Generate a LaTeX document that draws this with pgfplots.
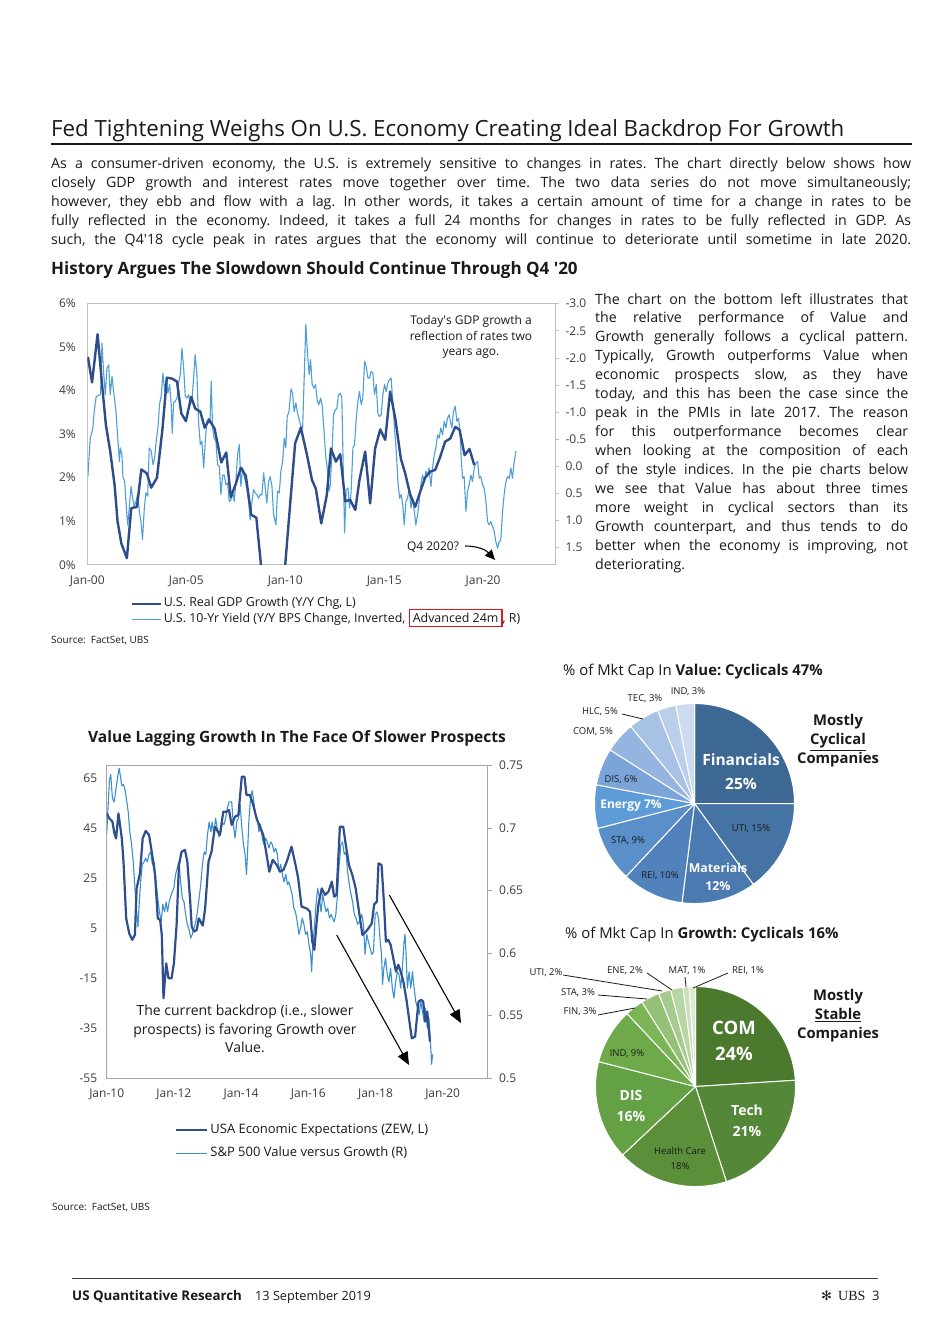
\documentclass[border=0pt]{standalone}
\usepackage{fontspec}
\setmainfont{Open Sans}
\newfontfamily\dejavu{DejaVu Sans}
\newfontfamily\ubsserif{Liberation Serif}
\usepackage{xcolor}
\usepackage{pgfplots}
\pgfplotsset{compat=1.18}
\usepackage{pgfplotstable}
\usetikzlibrary{arrows.meta}
\frenchspacing

\definecolor{gdpblue}{HTML}{2E4C8A}
\definecolor{yldblue}{HTML}{4E9FD8}
\definecolor{zewblue}{HTML}{2F4E8C}
\definecolor{vgblue}{HTML}{3A8FCF}
\definecolor{boxgray}{HTML}{BFBFBF}
\definecolor{boxgrayb}{HTML}{A6A6A6}
\definecolor{txt}{HTML}{1A1A1A}
\definecolor{boxred}{HTML}{E8141B}
% value pie
\definecolor{vFin}{HTML}{3D6894}
\definecolor{vUti}{HTML}{4573A3}
\definecolor{vMat}{HTML}{4A7AB0}
\definecolor{vRei}{HTML}{5282BC}
\definecolor{vSta}{HTML}{5A8FCA}
\definecolor{vEne}{HTML}{5E9CD7}
\definecolor{vDis}{HTML}{7BA5D9}
\definecolor{vCom}{HTML}{95B5E0}
\definecolor{vHlc}{HTML}{A7C2E5}
\definecolor{vTec}{HTML}{BACFEA}
\definecolor{vInd}{HTML}{CCDBEF}
% growth pie
\definecolor{gCom}{HTML}{4B7A2E}
\definecolor{gTec}{HTML}{558738}
\definecolor{gHc}{HTML}{5B8F3A}
\definecolor{gDis}{HTML}{64A044}
\definecolor{gInd}{HTML}{6EAA4A}
\definecolor{gFin}{HTML}{7DB457}
\definecolor{gSta}{HTML}{94C077}
\definecolor{gUti}{HTML}{A7CB8F}
\definecolor{gEne}{HTML}{B8D5A4}
\definecolor{gMat}{HTML}{CADFBA}
\definecolor{gRei}{HTML}{DDEAD2}

% US real GDP growth, y/y %
\pgfplotstableread{
year gdp
2000.03 4.78
2000.24 4.19
2000.52 5.30
2000.74 4.17
2000.94 3.21
2001.16 2.60
2001.38 1.83
2001.53 0.99
2001.72 0.49
2002.00 0.15
2002.22 1.30
2002.51 1.33
2002.73 2.19
2003.01 2.10
2003.23 1.77
2003.52 2.00
2003.80 3.13
2004.02 4.30
2004.28 4.28
2004.53 4.21
2004.75 3.48
2004.98 3.30
2005.25 3.86
2005.45 3.59
2005.71 3.52
2005.93 3.15
2006.16 3.33
2006.43 3.13
2006.77 2.35
2007.02 2.58
2007.25 1.55
2007.51 1.87
2007.76 2.23
2008.01 2.04
2008.28 1.15
2008.54 1.08
2008.77 0.02
2009.02 -2.50
2009.27 -3.90
2009.52 -3.20
2009.77 -0.60
2010.00 0.00
2010.25 1.40
2010.50 2.79
2010.79 3.15
2011.10 2.52
2011.35 1.95
2011.55 1.74
2011.82 0.95
2012.10 1.60
2012.31 2.67
2012.56 2.37
2012.78 2.54
2013.03 1.46
2013.28 1.49
2013.54 1.26
2013.75 1.95
2014.04 2.60
2014.29 1.41
2014.54 2.67
2014.80 3.11
2015.05 2.87
2015.30 3.98
2015.56 3.36
2015.84 2.44
2016.06 2.10
2016.31 1.62
2016.57 1.33
2016.82 1.68
2017.07 2.00
2017.33 2.14
2017.58 2.18
2017.83 2.48
2018.08 2.83
2018.34 2.90
2018.59 3.17
2018.81 3.10
2019.06 2.52
2019.31 2.66
2019.55 2.29
}\gdp

% 10-yr yield y/y change (pp), advanced 24m, plotted inverted
\pgfplotstableread{
year chg
2000.03 0.19
2000.15 -0.52
2000.27 -0.68
2000.37 -1.08
2000.45 -1.29
2000.57 -1.31
2000.67 -1.32
2000.74 -2.27
2000.82 -1.75
2000.91 -1.32
2000.99 -1.81
2001.08 -1.87
2001.16 -1.32
2001.25 -1.66
2001.33 -1.38
2001.45 -1.01
2001.53 -0.58
2001.62 -0.09
2001.67 -0.34
2001.75 -0.21
2001.80 0.19
2001.89 0.28
2001.95 0.65
2002.04 1.08
2002.12 0.77
2002.21 0.37
2002.29 0.59
2002.37 0.74
2002.46 0.65
2002.54 0.52
2002.63 0.83
2002.71 1.02
2002.79 1.35
2002.88 0.77
2002.96 0.49
2003.05 0.55
2003.13 -0.34
2003.23 -0.28
2003.32 -0.03
2003.40 -0.15
2003.48 -0.46
2003.57 -0.71
2003.65 -1.14
2003.74 -1.32
2003.82 -1.72
2003.91 -1.38
2003.99 -1.63
2004.07 -1.35
2004.16 -1.51
2004.24 -1.14
2004.29 -0.61
2004.36 -1.17
2004.44 -1.20
2004.53 -1.26
2004.61 -1.54
2004.70 -1.69
2004.78 -2.18
2004.87 -1.81
2004.95 -1.29
2005.03 -1.26
2005.12 -1.32
2005.20 -1.14
2005.29 -1.23
2005.37 -1.63
2005.45 -2.06
2005.54 -1.69
2005.62 -0.83
2005.71 -0.40
2005.79 -0.46
2005.88 0.03
2005.96 -0.46
2006.04 -0.83
2006.13 -0.89
2006.20 -0.83
2006.26 -1.57
2006.33 -0.71
2006.41 -0.52
2006.50 -0.46
2006.58 -0.03
2006.67 0.00
2006.75 0.52
2006.84 0.16
2006.92 0.16
2007.00 0.34
2007.09 0.31
2007.17 0.65
2007.26 0.62
2007.34 0.46
2007.42 0.65
2007.51 0.28
2007.59 -0.21
2007.68 -0.40
2007.76 0.37
2007.85 0.03
2007.93 0.19
2008.06 0.40
2008.15 0.65
2008.23 0.99
2008.32 0.65
2008.40 0.43
2008.49 0.49
2008.57 0.52
2008.65 0.59
2008.74 0.52
2008.82 0.53
2008.91 0.12
2008.99 0.40
2009.07 0.68
2009.16 0.28
2009.24 0.19
2009.33 0.37
2009.41 0.89
2009.53 1.08
2009.61 0.46
2009.70 0.49
2009.78 0.09
2009.87 -0.09
2009.95 -0.52
2010.03 -0.34
2010.10 -0.92
2010.19 -1.01
2010.29 -1.43
2010.37 -1.35
2010.45 -1.01
2010.54 -1.17
2010.62 -0.98
2010.71 -0.86
2010.79 -0.74
2010.88 -0.70
2011.04 -2.62
2011.13 -2.06
2011.21 -1.69
2011.28 -1.97
2011.36 -1.51
2011.45 -1.44
2011.53 -1.51
2011.62 -1.20
2011.70 -1.14
2011.79 -1.26
2011.87 -1.11
2011.95 -0.71
2012.04 -0.21
2012.12 0.03
2012.21 0.46
2012.27 0.37
2012.36 -0.21
2012.44 -0.95
2012.53 -1.04
2012.61 -1.07
2012.69 -1.32
2012.78 -1.35
2012.86 -1.26
2012.93 0.03
2013.00 1.23
2013.08 0.43
2013.17 0.40
2013.25 0.77
2013.33 0.46
2013.42 -0.34
2013.50 -0.40
2013.59 -0.89
2013.67 -1.20
2013.75 -1.38
2013.84 -1.14
2013.92 -1.26
2014.01 -1.94
2014.09 -1.84
2014.18 -1.63
2014.26 -1.63
2014.34 -1.75
2014.43 -1.72
2014.51 -1.32
2014.60 -1.51
2014.68 -0.98
2014.76 -0.92
2014.85 -0.95
2014.93 -1.32
2015.02 -1.51
2015.10 -1.38
2015.19 -1.54
2015.27 -1.60
2015.35 -1.63
2015.44 -1.14
2015.52 -0.71
2015.61 -0.28
2015.69 0.28
2015.78 0.59
2015.86 0.52
2015.94 0.71
2016.01 1.08
2016.10 0.65
2016.18 0.59
2016.26 0.40
2016.35 0.77
2016.43 0.59
2016.52 0.83
2016.60 1.08
2016.69 0.89
2016.77 0.65
2016.85 0.34
2016.94 0.16
2017.02 0.28
2017.11 0.09
2017.19 0.16
2017.27 0.03
2017.36 0.37
2017.44 0.03
2017.53 -0.21
2017.61 -0.34
2017.70 -0.58
2017.78 -0.52
2017.86 -0.71
2017.95 -0.58
2018.03 -0.83
2018.12 -0.71
2018.20 -0.89
2018.28 -0.95
2018.34 -0.83
2018.42 -0.71
2018.50 -1.01
2018.59 -1.11
2018.67 -0.83
2018.76 -0.89
2018.84 -0.58
2018.89 -0.15
2018.96 0.22
2019.04 0.19
2019.13 0.83
2019.21 0.46
2019.29 0.34
2019.38 0.16
2019.46 0.28
2019.55 0.03
2019.63 -0.06
2019.72 -0.09
2019.80 0.22
2019.88 0.19
2019.97 0.34
2020.05 0.40
2020.14 0.65
2020.22 1.02
2020.30 1.08
2020.39 1.02
2020.47 1.11
2020.56 1.20
2020.64 1.39
2020.73 1.51
2020.81 1.39
2020.89 1.36
2020.98 0.83
2021.06 0.52
2021.15 0.28
2021.23 0.19
2021.32 0.22
2021.40 0.03
2021.48 0.22
2021.57 -0.09
2021.65 -0.28
}\yld

% ZEW US economic expectations
\pgfplotstableread{
year zew
2010.00 50.9
2010.08 48.9
2010.17 47.6
2010.23 42.9
2010.28 40.9
2010.35 50.9
2010.45 40.9
2010.50 31.6
2010.58 8.9
2010.67 2.9
2010.76 0.3
2010.84 2.3
2010.89 20.9
2010.99 26.9
2011.07 40.9
2011.16 43.9
2011.26 42.3
2011.34 35.6
2011.44 26.3
2011.52 8.9
2011.59 8.3
2011.64 2.3
2011.69 -23.1
2011.77 -9.1
2011.84 -15.1
2011.93 -15.1
2012.00 -9.1
2012.08 6.3
2012.15 30.3
2012.23 35.6
2012.33 36.3
2012.40 31.6
2012.48 16.9
2012.53 5.6
2012.60 3.6
2012.68 4.3
2012.74 8.9
2012.86 6.0
2012.93 12.9
2013.03 31.6
2013.12 35.6
2013.22 45.6
2013.37 42.3
2013.47 51.6
2013.57 51.6
2013.64 52.3
2013.72 46.3
2013.82 49.6
2013.92 50.3
2014.02 65.6
2014.10 65.6
2014.16 58.3
2014.26 58.3
2014.36 54.3
2014.46 48.9
2014.56 45.6
2014.66 42.3
2014.76 34.3
2014.84 27.6
2014.94 32.3
2015.06 30.3
2015.16 27.6
2015.26 28.3
2015.36 31.6
2015.50 37.6
2015.60 31.6
2015.70 24.9
2015.80 13.6
2015.95 12.9
2016.05 11.6
2016.12 -0.4
2016.18 -3.7
2016.25 7.6
2016.30 14.3
2016.40 20.9
2016.50 18.3
2016.60 19.6
2016.70 23.6
2016.77 17.6
2016.84 18.3
2016.94 45.6
2017.04 45.6
2017.11 38.9
2017.21 30.3
2017.31 26.3
2017.41 20.9
2017.51 11.6
2017.61 2.3
2017.71 3.5
2017.79 4.9
2017.89 6.9
2017.96 14.5
2018.04 15.6
2018.09 30.9
2018.18 30.3
2018.25 15.6
2018.31 -0.4
2018.38 0.3
2018.45 -1.7
2018.53 -7.1
2018.61 -12.4
2018.68 -9.7
2018.75 -12.4
2018.83 -16.4
2018.93 -24.4
2019.01 -32.4
2019.08 -39.1
2019.18 -38.4
2019.28 -24.4
2019.36 -23.7
2019.42 -24.4
2019.48 -32.4
2019.54 -28.4
2019.62 -40.4
}\zew

% S&P 500 Value / Growth ratio
\pgfplotstableread{
year ratio
2010.00 0.695
2010.08 0.738
2010.12 0.743
2010.17 0.724
2010.22 0.721
2010.27 0.730
2010.32 0.740
2010.37 0.748
2010.40 0.743
2010.45 0.734
2010.50 0.735
2010.55 0.730
2010.60 0.721
2010.64 0.713
2010.69 0.697
2010.74 0.687
2010.79 0.673
2010.84 0.652
2010.89 0.633
2010.93 0.621
2010.97 0.641
2011.01 0.657
2011.06 0.671
2011.11 0.673
2011.16 0.676
2011.21 0.673
2011.26 0.679
2011.31 0.681
2011.36 0.671
2011.41 0.673
2011.47 0.657
2011.52 0.644
2011.57 0.633
2011.62 0.625
2011.67 0.639
2011.72 0.633
2011.77 0.641
2011.81 0.633
2011.86 0.641
2011.90 0.645
2011.95 0.649
2012.00 0.652
2012.05 0.663
2012.10 0.668
2012.15 0.673
2012.20 0.657
2012.25 0.644
2012.30 0.641
2012.35 0.631
2012.40 0.623
2012.45 0.619
2012.50 0.612
2012.55 0.615
2012.60 0.620
2012.65 0.625
2012.70 0.633
2012.75 0.644
2012.80 0.655
2012.85 0.671
2012.90 0.681
2012.95 0.679
2013.00 0.695
2013.05 0.705
2013.10 0.697
2013.14 0.705
2013.19 0.695
2013.24 0.708
2013.29 0.700
2013.34 0.693
2013.39 0.696
2013.44 0.704
2013.49 0.703
2013.54 0.708
2013.59 0.716
2013.64 0.721
2013.72 0.721
2013.77 0.703
2013.82 0.692
2013.87 0.705
2013.92 0.708
2013.97 0.719
2014.02 0.701
2014.07 0.687
2014.12 0.679
2014.16 0.663
2014.19 0.679
2014.23 0.705
2014.28 0.724
2014.33 0.730
2014.38 0.721
2014.43 0.711
2014.48 0.708
2014.53 0.697
2014.58 0.703
2014.63 0.692
2014.68 0.687
2014.73 0.692
2014.78 0.689
2014.83 0.684
2014.88 0.689
2014.93 0.687
2014.98 0.681
2015.03 0.684
2015.08 0.679
2015.13 0.665
2015.18 0.671
2015.23 0.663
2015.28 0.657
2015.33 0.663
2015.38 0.655
2015.42 0.657
2015.47 0.652
2015.52 0.647
2015.57 0.636
2015.62 0.633
2015.67 0.625
2015.72 0.615
2015.77 0.620
2015.82 0.628
2015.87 0.623
2015.92 0.615
2015.97 0.617
2016.02 0.607
2016.07 0.599
2016.10 0.585
2016.13 0.604
2016.18 0.620
2016.23 0.639
2016.28 0.652
2016.33 0.644
2016.38 0.633
2016.43 0.647
2016.48 0.639
2016.53 0.633
2016.58 0.636
2016.63 0.628
2016.68 0.631
2016.72 0.628
2016.77 0.625
2016.82 0.631
2016.87 0.647
2016.92 0.671
2016.97 0.687
2017.02 0.689
2017.07 0.679
2017.12 0.681
2017.17 0.665
2017.22 0.655
2017.27 0.647
2017.32 0.641
2017.37 0.631
2017.42 0.628
2017.47 0.623
2017.52 0.625
2017.59 0.631
2017.64 0.623
2017.69 0.599
2017.74 0.615
2017.79 0.609
2017.84 0.604
2017.89 0.599
2017.94 0.601
2017.99 0.631
2018.04 0.633
2018.09 0.628
2018.14 0.609
2018.18 0.599
2018.21 0.575
2018.25 0.588
2018.30 0.596
2018.35 0.583
2018.40 0.577
2018.45 0.588
2018.50 0.572
2018.55 0.564
2018.60 0.577
2018.65 0.585
2018.70 0.583
2018.75 0.572
2018.80 0.588
2018.85 0.609
2018.88 0.615
2018.91 0.599
2018.95 0.572
2019.00 0.585
2019.05 0.572
2019.10 0.585
2019.15 0.572
2019.20 0.561
2019.25 0.556
2019.30 0.551
2019.35 0.561
2019.40 0.553
2019.45 0.545
2019.49 0.556
2019.54 0.540
2019.59 0.548
2019.64 0.527
2019.67 0.511
2019.70 0.519
}\vg

% pie wedge from cumulative share #1 to #2 (percent), clockwise from 12 o'clock
\newcommand{\pieslice}[3]{%
  \addplot[draw=white, line width=1bp, fill=#3, domain=#1:#2, samples=40, line join=round]
    ({sin(3.6*x)},{cos(3.6*x)}) -- (0,0) -- cycle;}

\pgfplotsset{
  chart/.style={scale only axis, clip=true,
    tick label style={font=\fontsize{12bp}{14bp}\selectfont, text=txt!85},
    major tick length=0pt},
  pie/.style={hide axis, scale only axis, width=200bp, height=200bp,
    xmin=-1, xmax=1, ymin=-1, ymax=1, anchor=center, clip=false},
}

\begin{document}
\begin{tikzpicture}[x=1bp, y=-1bp,
  t/.style={anchor=base west, inner sep=0pt, text=txt},
  c/.style={anchor=center, inner sep=0pt, text=txt, align=center},
  small/.style={font=\fontsize{9.5bp}{12bp}\selectfont}]
\path[use as bounding box] (0,0) rectangle (950,1344);
\fill[white] (0,0) rectangle (950,1344);

% ---------- header ----------
\node[t, font=\fontsize{22.3bp}{26bp}\selectfont] at (51,137)
  {Fed Tightening Weighs On U.S. Economy Creating Ideal Backdrop For Growth};
\draw[line width=1.4bp, txt] (51,144) -- (912,144);
\begin{scope}[every node/.style={t, font=\fontsize{14.2bp}{19bp}\selectfont}]
\node at (51,169) {\makebox[860bp][s]{As a consumer-driven economy, the U.S. is extremely sensitive to changes in rates. The chart directly below shows how}};
\node at (51,188) {\makebox[860bp][s]{closely GDP growth and interest rates move together over time. The two data series do not move simultaneously;}};
\node at (51,207) {\makebox[860bp][s]{however, they ebb and flow with a lag. In other words, it takes a certain amount of time for a change in rates to be}};
\node at (51,226) {\makebox[860bp][s]{fully reflected in the economy. Indeed, it takes a full 24 months for changes in rates to be fully reflected in GDP. As}};
\node at (51,245) {\makebox[860bp][s]{such, the Q4\textquotesingle18 cycle peak in rates argues that the economy will continue to deteriorate until sometime in late 2020.}};
% right column
\node at (595,304.0) {\makebox[313bp][s]{The chart on the bottom left illustrates that}};
\node at (595,322.9) {\makebox[313bp][s]{the relative performance of Value and}};
\node at (595,341.9) {\makebox[313bp][s]{Growth generally follows a cyclical pattern.}};
\node at (595,360.8) {\makebox[313bp][s]{Typically, Growth outperforms Value when}};
\node at (595,379.7) {\makebox[313bp][s]{economic prospects slow, as they have}};
\node at (595,398.7) {\makebox[313bp][s]{today, and this has been the case since the}};
\node at (595,417.6) {\makebox[313bp][s]{peak in the PMIs in late 2017. The reason}};
\node at (595,436.5) {\makebox[313bp][s]{for this outperformance becomes clear}};
\node at (595,455.4) {\makebox[313bp][s]{when looking at the composition of each}};
\node at (595,474.4) {\makebox[313bp][s]{of the style indices. In the pie charts below}};
\node at (595,493.3) {\makebox[313bp][s]{we see that Value has about three times}};
\node at (595,512.2) {\makebox[313bp][s]{more weight in cyclical sectors than its}};
\node at (595,531.2) {\makebox[313bp][s]{Growth counterpart, and thus tends to do}};
\node at (595,550.1) {\makebox[313bp][s]{better when the economy is improving, not}};
\node at (595,569.0) {deteriorating.};
\end{scope}
\node[t, font=\fontsize{17bp}{19bp}\selectfont\bfseries] at (51,274.5)
  {History Argues The Slowdown Should Continue Through Q4 \textquotesingle20};

% ---------- chart 1: GDP vs 10y yield ----------
\begin{axis}[chart, at={(87.3bp,-303.7bp)}, anchor=north west,
  width=467.7bp, height=261bp, xmin=2000, xmax=2023.63,
  ymin=-3, ymax=1.815, y dir=reverse,
  axis x line=none, axis y line*=right, axis line style={boxgray, line width=0.8bp},
  ytick={-3,-2.5,-2,-1.5,-1,-0.5,0,0.5,1,1.5},
  yticklabels={-3.0,-2.5,-2.0,-1.5,-1.0,-0.5,0.0,0.5,1.0,1.5},
  tick align=outside, major tick length=4bp, tick style={boxgray, line width=0.8bp},
  yticklabel style={anchor=west, xshift=3bp}]
\addplot[yldblue, line width=1.1bp, line join=round] table[x=year, y=chg] {\yld};
\end{axis}
\begin{axis}[chart, at={(87.3bp,-303.7bp)}, anchor=north west,
  width=467.7bp, height=261bp, xmin=2000, xmax=2023.63, ymin=0, ymax=6,
  axis line style={boxgray, line width=0.8bp},
  ytick={0,1,2,3,4,5,6}, yticklabels={0\%,1\%,2\%,3\%,4\%,5\%,6\%},
  xtick={2000,2005,2010,2015,2020}, xticklabels={Jan-00,Jan-05,Jan-10,Jan-15,Jan-20},
  yticklabel style={xshift=-8bp}, xticklabel style={yshift=-8bp},
  legend style={at={(axis description cs:0.093,-0.12)}, anchor=north west,
    draw=none, fill=none, inner sep=0pt, row sep=1bp,
    font=\fontsize{12.4bp}{14bp}\selectfont,
    nodes={inner sep=1.5bp, text height=9bp, text depth=3bp, text=txt},
    cells={anchor=west}},
  legend image code/.code={\draw[#1] (0bp,0bp) -- (29bp,0bp);}]
\addplot[gdpblue, line width=2.4bp, line join=round] table[x=year, y=gdp] {\gdp};
\addlegendentry{U.S. Real GDP Growth (Y/Y Chg, L)}
\addlegendimage{yldblue, line width=1.1bp}
\addlegendentry{U.S. 10-Yr Yield (Y/Y BPS Change, Inverted, {\setlength{\fboxsep}{3bp}\setlength{\fboxrule}{1.2bp}\raisebox{0pt}[9bp][3bp]{\fcolorbox{boxred}{white}{\textcolor{txt}{Advanced 24m}}}}, R)}
\end{axis}
\node[c, font=\fontsize{12bp}{15.5bp}\selectfont] at (471,337)
  {Today\textquotesingle s GDP growth a\\reflection of rates two\\years ago.};
\node[c, font=\fontsize{12bp}{14bp}\selectfont] at (433,547) {Q4 2020?};
\draw[line width=1.1bp, -{Triangle[length=10bp,width=9bp]}]
  (465,546) .. controls (478,546) and (486,550) .. (495,560);
\node[t, font=\fontsize{10bp}{12bp}\selectfont] at (51,643.5) {Source:\ \ FactSet, UBS};

% ---------- chart 2: ZEW vs value/growth ----------
\node[t, font=\fontsize{15.55bp}{18bp}\selectfont\bfseries] at (88,742.5)
  {Value Lagging Growth In The Face Of Slower Prospects};
\begin{axis}[chart, at={(106.7bp,-765.7bp)}, anchor=north west,
  width=381bp, height=312.3bp, xmin=2010, xmax=2021.34, ymin=0.5, ymax=0.75,
  axis x line=none, axis y line*=right, axis line style={boxgrayb, line width=0.8bp},
  ytick={0.5,0.55,0.6,0.65,0.7,0.75}, yticklabels={0.5,0.55,0.6,0.65,0.7,0.75},
  tick align=outside, major tick length=4bp, tick style={boxgrayb, line width=0.8bp},
  yticklabel style={anchor=west, xshift=4bp}]
\addplot[vgblue, line width=1.1bp, line join=round] table[x=year, y=ratio] {\vg};
\end{axis}
\begin{axis}[chart, at={(106.7bp,-765.7bp)}, anchor=north west,
  width=381bp, height=312.3bp, xmin=2010, xmax=2021.34, ymin=-55, ymax=70,
  axis line style={boxgrayb, line width=0.8bp},
  ytick={-55,-35,-15,5,25,45,65}, yticklabels={-55,-35,-15,5,25,45,65},
  xtick={2010,2012,2014,2016,2018,2020},
  xticklabels={Jan-10,Jan-12,Jan-14,Jan-16,Jan-18,Jan-20},
  yticklabel style={xshift=-6bp}, xticklabel style={yshift=-7bp},
  legend style={at={(axis description cs:0.178,-0.139)}, anchor=north west,
    draw=none, fill=none, inner sep=0pt, row sep=6bp,
    font=\fontsize{13bp}{15bp}\selectfont,
    nodes={inner sep=2.5bp, text height=9bp, text depth=3bp, text=txt},
    cells={anchor=west}},
  legend image code/.code={\draw[#1] (0bp,0bp) -- (31bp,0bp);}]
\addplot[zewblue, line width=2.2bp, line join=round] table[x=year, y=zew] {\zew};
\addlegendentry{USA Economic Expectations (ZEW, L)}
\addlegendimage{vgblue, line width=1.1bp}
\addlegendentry{S\&P 500 Value versus Growth (R)}
\end{axis}
\node[c, font=\fontsize{14bp}{18.5bp}\selectfont] at (245,1029)
  {The current backdrop (i.e., slower\\prospects) is favoring Growth over\\Value.};
\draw[line width=1.1bp, -{Triangle[length=13bp,width=11bp]}] (336.7,935) -- (409,1065);
\draw[line width=1.1bp, -{Triangle[length=13bp,width=11bp]}] (389.3,895) -- (461,1023);
\node[t, font=\fontsize{10bp}{12bp}\selectfont] at (52,1210.5) {Source:\ \ FactSet, UBS};

% ---------- pie 1: value ----------
\node[t, font=\fontsize{14.9bp}{17bp}\selectfont] at (563,675)
  {\% of Mkt Cap In \textbf{Value: Cyclicals 47\%}};
\begin{axis}[pie, at={(694.5bp,-803.5bp)}]
\pieslice{0}{25}{vFin}
\pieslice{25}{40}{vUti}
\pieslice{40}{52}{vMat}
\pieslice{52}{62}{vRei}
\pieslice{62}{71}{vSta}
\pieslice{71}{78}{vEne}
\pieslice{78}{84}{vDis}
\pieslice{84}{89}{vCom}
\pieslice{89}{94}{vHlc}
\pieslice{94}{97}{vTec}
\pieslice{97}{100}{vInd}
\end{axis}
\node[c, text=white, font=\fontsize{15.5bp}{24bp}\selectfont\bfseries] at (741,772) {Financials\\25\%};
\node[c, small] at (751,829) {UTI, 15\%};
\node[c, text=white, font=\fontsize{12.3bp}{18bp}\selectfont\bfseries] at (718,877) {Materials\\12\%};
\node[c, small] at (660,876) {REI, 10\%};
\node[c, small] at (628,841) {STA, 9\%};
\node[c, text=white, font=\fontsize{12bp}{15bp}\selectfont\bfseries] at (631,806) {Energy 7\%};
\node[c, small] at (621,780) {DIS, 6\%};
\node[c, small] at (593,732) {COM, 5\%};
\node[c, small] at (600,712) {HLC, 5\%};
\node[c, small] at (645,699) {TEC, 3\%};
\node[c, small] at (688,692) {IND, 3\%};
\draw[line width=0.8bp, txt] (622,714) -- (643,719);
\node[c, font=\fontsize{14.8bp}{19bp}\selectfont\bfseries] at (838,741)
  {Mostly\\\underline{Cyclical}\\Companies};

% ---------- pie 2: growth ----------
\node[t, font=\fontsize{14.9bp}{17bp}\selectfont] at (565,938)
  {\% of Mkt Cap In \textbf{Growth: Cyclicals 16\%}};
\begin{axis}[pie, at={(695.5bp,-1086.5bp)}]
\pieslice{0}{24}{gCom}
\pieslice{24}{45}{gTec}
\pieslice{45}{63}{gHc}
\pieslice{63}{79}{gDis}
\pieslice{79}{88}{gInd}
\pieslice{88}{91}{gFin}
\pieslice{91}{94}{gSta}
\pieslice{94}{96}{gUti}
\pieslice{96}{98}{gEne}
\pieslice{98}{99}{gMat}
\pieslice{99}{100}{gRei}
\end{axis}
\node[c, text=white, font=\fontsize{18.5bp}{26bp}\selectfont\bfseries] at (734,1041) {COM\\24\%};
\node[c, text=white, font=\fontsize{14bp}{21bp}\selectfont\bfseries] at (747,1121) {Tech\\21\%};
\node[c, font=\fontsize{9.5bp}{15bp}\selectfont] at (680,1158) {Health Care\\18\%};
\node[c, text=white, font=\fontsize{14bp}{21bp}\selectfont\bfseries] at (631,1106) {DIS\\16\%};
\node[c, small] at (627,1054) {IND, 9\%};
\node[c, small] at (546,973) {UTI, 2\%};
\node[c, small] at (625,971) {ENE, 2\%};
\node[c, small] at (687,971) {MAT, 1\%};
\node[c, small] at (748,971) {REI, 1\%};
\node[c, small] at (578,993) {STA, 3\%};
\node[c, small] at (580,1012) {FIN, 3\%};
\begin{scope}[line width=0.8bp, txt]
\draw (563,975) -- (662,991);
\draw (647,973) -- (672,990);
\draw (685,977) -- (686,987);
\draw (728,973) -- (693,988);
\draw (598,995) -- (647,999);
\draw (598,1015) -- (635,1008);
\end{scope}
\node[c, font=\fontsize{14.8bp}{19bp}\selectfont\bfseries] at (838,1016)
  {Mostly\\\underline{Stable}\\Companies};

% ---------- footer ----------
\draw[line width=1bp, black!75] (72,1278) -- (878,1278);
\node[t, font=\fontsize{13.3bp}{16bp}\selectfont\bfseries] at (72,1300) {US Quantitative Research};
\node[t, font=\fontsize{12.7bp}{16bp}\selectfont] at (255,1300) {13 September 2019};
\node[t, font=\fontsize{13bp}{16bp}\dejavu] at (821,1300) {✻};
\node[t, font=\fontsize{14bp}{16bp}\ubsserif] at (838,1300) {UBS};
\node[t, font=\fontsize{13bp}{16bp}\selectfont] at (872,1300) {3};
\end{tikzpicture}
\end{document}
